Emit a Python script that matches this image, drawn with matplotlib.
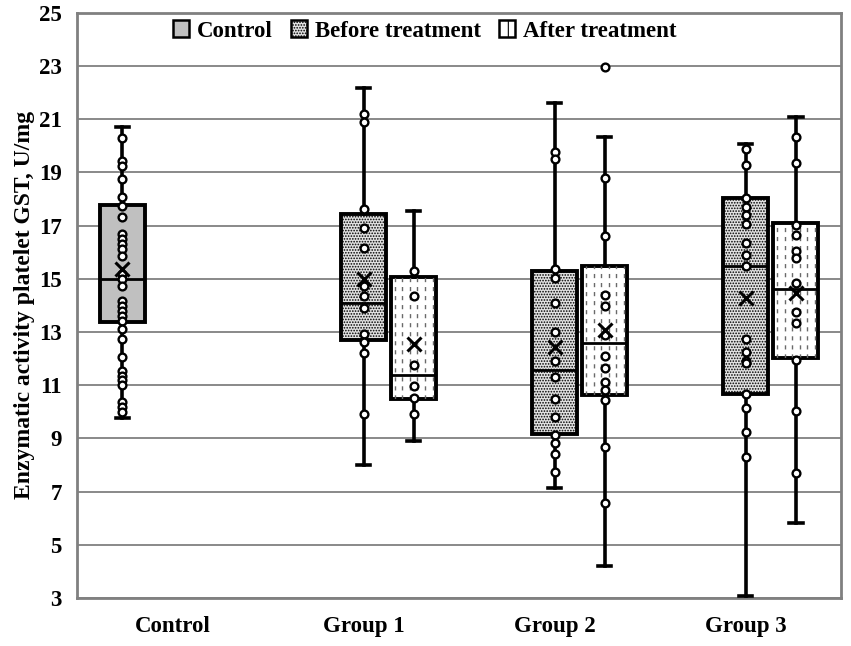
import matplotlib
matplotlib.use("Agg")
import matplotlib.pyplot as plt
from matplotlib.patches import Patch

plt.rcParams["font.family"] = ["Liberation Serif", "DejaVu Serif"]
plt.rcParams["font.weight"] = "bold"
plt.rcParams["hatch.color"] = "#8a8a8a"
plt.rcParams["hatch.linewidth"] = 0.8

categories = ["Control", "Group 1", "Group 2", "Group 3"]
series_names = ["Control", "Before treatment", "After treatment"]

# (category index, series index) -> box statistics
control_pts = [20.28, 19.42, 19.24, 18.76, 18.09, 17.74, 17.34, 16.68, 16.49,
               16.30, 16.11, 15.86, 15.18, 14.99, 14.74, 14.17, 13.99, 13.80,
               13.61, 13.43, 13.11, 12.74, 12.05, 11.55, 11.36, 11.18, 10.99,
               10.36, 10.18, 9.99]
g1_before_pts = [21.20, 20.89, 17.61, 16.90, 16.15, 14.74, 14.34, 13.90,
                 12.93, 12.62, 12.21, 9.90]
g1_after_pts = [15.30, 14.34, 11.74, 10.97, 10.51, 9.90]
g2_before_pts = [19.78, 19.49, 15.38, 15.02, 14.08, 13.01, 11.91, 11.32,
                 10.48, 9.79, 9.13, 8.82, 8.40, 7.73]
g2_after_pts = [22.97, 18.78, 16.62, 14.39, 13.99, 12.89, 12.10, 11.66,
                11.13, 10.82, 10.44, 8.69, 6.56]
g3_before_pts = [19.87, 19.28, 18.03, 17.69, 17.40, 17.06, 16.36, 15.89,
                 15.48, 12.74, 12.26, 11.92, 11.85, 10.66, 10.13, 9.23, 8.29]
g3_after_pts = [20.32, 19.37, 17.02, 16.65, 16.06, 15.77, 14.83, 13.76,
                13.33, 11.95, 10.04, 7.71]

box_cat = [0, 1, 1, 2, 2, 3, 3]
box_series = [0, 1, 2, 1, 2, 1, 2]
box_points = [control_pts, g1_before_pts, g1_after_pts, g2_before_pts,
              g2_after_pts, g3_before_pts, g3_after_pts]
whis_lo = [9.76, 7.99, 8.90, 7.15, 4.21, 3.08, 5.83]
q1 = [13.36, 12.68, 10.49, 9.15, 10.63, 10.66, 12.01]
median = [15.00, 14.09, 11.40, 11.57, 12.60, 15.48, 14.62]
q3 = [17.78, 17.43, 15.05, 15.29, 15.48, 18.05, 17.09]
whis_hi = [20.71, 22.18, 17.55, 21.60, 20.34, 20.07, 21.09]
means = [15.36, 15.00, 12.55, 12.45, 13.08, 14.27, 14.45]

yticks = list(range(3, 26, 2))

SLOT = 0.2625
WIDTH = 0.236
faces = ["#c0c0c0", "#e2e2e2", "white"]
hatches = [None, "......", None]

fig = plt.figure(figsize=(8.51, 6.46), dpi=100)
ax = fig.add_axes([0.0905, 0.0743, 0.898, 0.906])

stats, pos = [], []
for i in range(len(box_cat)):
    stats.append(dict(whislo=whis_lo[i], q1=q1[i], med=median[i], q3=q3[i],
                      whishi=whis_hi[i], mean=means[i], fliers=[]))
    pos.append(box_cat[i] + (box_series[i] - 1) * SLOT)

bp = ax.bxp(stats, positions=pos, widths=WIDTH, capwidths=0.07,
            patch_artist=True, showmeans=False, showfliers=False,
            boxprops=dict(linewidth=2.8, edgecolor="black"),
            medianprops=dict(color="black", linewidth=2.0),
            whiskerprops=dict(color="black", linewidth=2.6),
            capprops=dict(color="black", linewidth=2.6))

for i, patch in enumerate(bp["boxes"]):
    s = box_series[i]
    patch.set_facecolor(faces[s])
    if hatches[s]:
        patch.set_hatch(hatches[s])
    patch.set_zorder(2)
    if s == 2:
        # dashed vertical hatching of the "after" boxes
        xs = [pos[i] + k * WIDTH / 6 for k in (-2.5, -1.5, -0.5, 0.5, 1.5, 2.5)]
        vl = ax.vlines(xs, q1[i], q3[i], colors="#6a6a6a", linewidth=1.0,
                       linestyles=(0, (3, 3.5)), zorder=2.5)
        vl.set_clip_path(patch)

for key in ("whiskers", "caps", "medians"):
    for ln in bp[key]:
        ln.set_zorder(3)

for i in range(len(box_cat)):
    ax.plot([pos[i]] * len(box_points[i]), box_points[i], "o", ms=5.6,
            mfc="white", mec="black", mew=1.7, zorder=4)
    ax.plot(pos[i], means[i], "x", ms=10, mec="black", mew=2.2, zorder=5)

ax.set_xlim(-0.5, 3.5)
ax.set_ylim(3, 25)
ax.set_yticks(yticks)
ax.set_xticks(range(len(categories)))
ax.set_xticklabels(categories)
ax.tick_params(axis="both", length=0, labelsize=16.5)
ax.tick_params(axis="x", pad=13)
ax.tick_params(axis="y", pad=11)
ax.yaxis.grid(True, color="#808080", linewidth=1.3)
ax.set_axisbelow(True)
for sp in ax.spines.values():
    sp.set_color("#808080")
    sp.set_linewidth(2)
ax.set_ylabel("Enzymatic activity platelet GST, U/mg", fontsize=17,
              fontweight="bold", labelpad=3)

handles = [Patch(facecolor=faces[k], edgecolor="black", linewidth=1.8,
                 hatch=hatches[k] if k == 1 else ("|" if k == 2 else None))
           for k in range(3)]
ax.legend(handles, series_names, loc="upper center", ncol=3, frameon=False,
          bbox_to_anchor=(0.455, 1.022), fontsize=16.5, handlelength=0.7,
          handleheight=0.7, handletextpad=0.35, columnspacing=0.8)

fig.savefig("out.png", dpi=100)
